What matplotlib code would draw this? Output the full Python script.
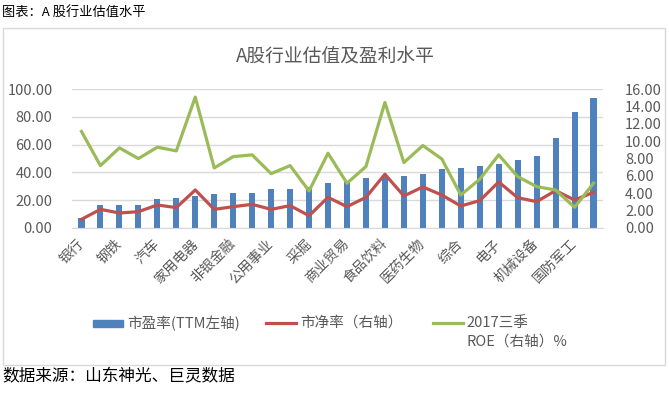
import numpy as np
from matplotlib import pyplot as plt
from matplotlib.patches import Rectangle
from matplotlib.lines import Line2D

plt.rcParams['font.family'] = ['Noto Sans CJK SC', 'DejaVu Sans']

# 申万一级行业，按市盈率排序（偶数位标签在原图中未显示）
industries = ['银行', '建筑装饰', '钢铁', '房地产', '汽车', '建筑材料', '家用电器',
              '交通运输', '非银金融', '化工', '公用事业', '有色金属', '采掘', '轻工制造',
              '商业贸易', '纺织服装', '食品饮料', '农林牧渔', '医药生物', '电气设备',
              '综合', '休闲服务', '电子', '传媒', '机械设备', '通信', '国防军工', '计算机']
pe_ttm = [7.2, 16.4, 16.4, 16.4, 21.0, 21.7, 23.1, 24.4, 24.8, 25.3, 27.7, 28.2, 29.2, 32.1,
          33.3, 35.7, 36.5, 37.4, 38.6, 42.4, 43.2, 44.6, 46.3, 48.7, 51.8, 64.6, 83.4, 94.0]
pb = [0.97, 2.12, 1.70, 1.85, 2.63, 2.32, 4.36, 2.12, 2.43, 2.70, 2.12, 2.55, 1.39, 3.51,
      2.43, 3.51, 6.18, 3.67, 4.71, 3.78, 2.51, 3.13, 5.29, 3.47, 3.01, 4.29, 3.20, 4.09]
roe_2017q3 = [11.12, 7.18, 9.23, 7.99, 9.31, 8.88, 15.10, 6.91, 8.22, 8.42, 6.25, 7.18, 4.25, 8.61,
              5.14, 7.07, 14.48, 7.53, 9.50, 7.95, 3.78, 5.60, 8.42, 5.91, 4.75, 4.36, 2.36, 5.14]

W, H = 669, 395
fig = plt.figure(figsize=(W / 100, H / 100), dpi=100)
fig.patch.set_facecolor('white')

blue, red, green = '#4F81BD', '#C0504D', '#9BBB59'
grey = '#595959'
gridc = '#D9D9D9'

# 图表外框
fig.add_artist(Rectangle((2.5 / W, 1 - 365 / H), (665 - 2.5) / W, (365 - 27.5) / H,
                         transform=fig.transFigure, fill=False, ec=gridc, lw=1))

ax = fig.add_axes([72 / W, 1 - 227.7 / H, (603 - 72) / W, (227.7 - 89.3) / H])
ax2 = ax.twinx()

x = np.arange(len(industries))
ax.bar(x, pe_ttm, width=0.32, color=blue, zorder=2)
ax2.plot(x, pb, color=red, lw=2.3, zorder=3)
ax2.plot(x, roe_2017q3, color=green, lw=2.3, zorder=3)

ax.set_xlim(-0.5, len(industries) - 0.5)
ax.set_ylim(0, 100)
ax2.set_ylim(0, 16)
ax.set_yticks(np.arange(0, 101, 20))
ax2.set_yticks(np.arange(0, 17, 2))
ax.set_yticklabels(['%.2f' % v for v in np.arange(0, 101, 20)])
ax2.set_yticklabels(['%.2f' % v for v in np.arange(0, 17, 2)])
ax.yaxis.grid(True, color=gridc, lw=1, zorder=0)
ax.set_axisbelow(True)

for a in (ax, ax2):
    for s in a.spines.values():
        s.set_visible(False)
    a.tick_params(axis='y', length=0, labelsize=10.5, labelcolor=grey)
ax.spines['bottom'].set_visible(True)
ax.spines['bottom'].set_color(gridc)
ax.tick_params(axis='y', pad=14)
ax2.tick_params(axis='y', pad=16)

ax.set_xticks(x[::2])
ax.set_xticklabels(industries[::2], rotation=45, ha='right', va='center',
                   rotation_mode='anchor', fontsize=10, color=grey)
ax.tick_params(axis='x', length=0, pad=10)

fig.text(335 / W, 1 - 56 / H, 'A股行业估值及盈利水平', ha='center', va='center',
         fontsize=13.5, color=grey)

# 图例
ly = 1 - 323 / H
fig.add_artist(Rectangle((93 / W, ly - 3.5 / H), 30 / W, 7 / H, transform=fig.transFigure,
                         color=blue))
fig.text(127 / W, ly, '市盈率(TTM左轴)', va='center', fontsize=10.5, color=grey)
fig.add_artist(Line2D([266 / W, 296 / W], [ly, ly], transform=fig.transFigure, color=red, lw=2.3))
fig.text(300 / W, ly, '市净率（右轴）', va='center', fontsize=10.5, color=grey)
fig.add_artist(Line2D([433 / W, 463 / W], [ly, ly], transform=fig.transFigure, color=green, lw=2.3))
fig.text(466 / W, ly, '2017三季', va='center', fontsize=10.5, color=grey)
fig.text(466 / W, 1 - 342 / H, 'ROE（右轴）%', va='center', fontsize=10.5, color=grey)

fig.text(2 / W, 1 - 12 / H, '图表：A 股行业估值水平', va='center', fontsize=9.5, color='black')
fig.text(2 / W, 1 - 377 / H, '数据来源：山东神光、巨灵数据', va='center', fontsize=12, color='black')

fig.savefig('out.png', dpi=100)
